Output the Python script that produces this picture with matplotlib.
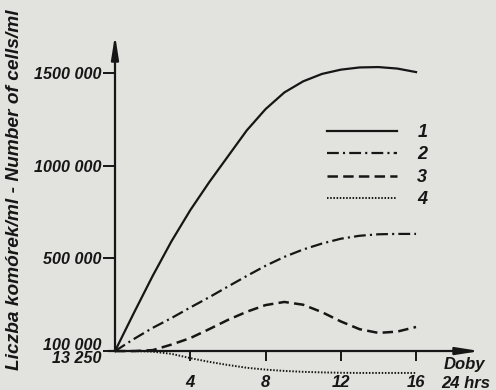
import matplotlib
matplotlib.use('Agg')
import matplotlib.pyplot as plt
from matplotlib.lines import Line2D

# ---- data ----
days = list(range(0, 17))
cells1 = [0, 205000, 405000, 592000, 760000, 910000, 1050000, 1190000, 1305000,
          1395000, 1455000, 1495000, 1518000, 1530000, 1532000, 1524000, 1505000]
cells2 = [0, 65000, 125000, 178000, 235000, 290000, 348000, 405000, 460000,
          508000, 548000, 580000, 606000, 622000, 630000, 632000, 632000]
cells3 = [0, 0, 5000, 35000, 70000, 118000, 168000, 212000, 248000,
          265000, 250000, 210000, 160000, 118000, 98000, 105000, 130000]
cells4 = [0, 0, -3000, -15000, -38000, -58000, -75000, -90000, -100000,
          -107000, -112000, -115000, -117000, -118000, -118000, -118000, -118000]

xticks = [4, 8, 12, 16]
xtick_labels = ['4', '8', '12', '16']
yticks = [0, 500000, 1000000, 1500000]
ytick_labels = ['100 000\n13 250', '500 000', '1000 000', '1500 000']
legend_labels = ['1', '2', '3', '4']

bg = '#e2e2df'
ink = '#161616'

plt.rcParams['font.family'] = ['Liberation Sans', 'DejaVu Sans']
plt.rcParams['font.weight'] = 'bold'
plt.rcParams['font.style'] = 'italic'
plt.rcParams['lines.scale_dashes'] = False

fig = plt.figure(figsize=(4.96, 3.9), dpi=100, facecolor=bg)
ax = fig.add_axes([115/496, 5/390, (480-115)/496, (385-35)/390])
ax.set_facecolor(bg)
ax.set_xlim(0, 19.4)
ax.set_ylim(-183000, 1705000)

styles = [
    dict(linestyle='-', lw=1.6),
    dict(linestyle=(0, (8.5, 3, 1.5, 3)), lw=1.6),
    dict(linestyle=(0, (7.5, 3.8)), lw=1.8),
    dict(linestyle=(0, (1.1, 1.2)), lw=1.4),
]
series = [cells1, cells2, cells3, cells4]
for c, st in zip(series, styles):
    ax.plot(days, c, color=ink, clip_on=False, solid_joinstyle='round', **st)

for s in ['top', 'right']:
    ax.spines[s].set_visible(False)
ax.spines['bottom'].set_position(('data', 0))
ax.spines['bottom'].set_bounds(-0.3, 18.3)
ax.spines['left'].set_bounds(0, 1620000)
for s in ['bottom', 'left']:
    ax.spines[s].set_linewidth(1.6)
    ax.spines[s].set_color(ink)

ax.annotate('', xy=(19.4, 0), xytext=(18.2, 0),
            arrowprops=dict(arrowstyle='-|>,head_length=1.4,head_width=0.22',
                            lw=1.6, color=ink, shrinkA=0, shrinkB=0))
ax.annotate('', xy=(0, 1705000), xytext=(0, 1610000),
            arrowprops=dict(arrowstyle='-|>,head_length=1.4,head_width=0.22',
                            lw=1.6, color=ink, shrinkA=0, shrinkB=0))

ax.set_xticks(xticks)
ax.set_xticklabels(xtick_labels, fontsize=12)
ax.set_yticks(yticks)
ax.set_yticklabels(ytick_labels, fontsize=11.6, linespacing=0.85)
ax.tick_params(axis='x', direction='out', length=7, width=1.4, color=ink, pad=10, labelcolor=ink)
ax.tick_params(axis='y', direction='out', length=9, width=1.4, color=ink, pad=1, labelcolor=ink)

fig.text(15/496, 1 - 190/390, 'Liczba komórek/ml - Number of cells/ml',
         rotation=90, ha='center', va='center', fontsize=13.8, color=ink)
fig.text(464/496, 1 - 364/390, 'Doby', ha='center', va='center', fontsize=12, color=ink)
fig.text(466/496, 1 - 383/390, '24 hrs', ha='center', va='center', fontsize=12, color=ink)

handles = [Line2D([0], [0], color=ink, **st) for st in styles]
leg = ax.legend(handles, legend_labels, loc='upper left',
                bbox_to_anchor=(327/496, 1 - 124/390), bbox_transform=fig.transFigure,
                frameon=False, fontsize=13, handlelength=3.9, handletextpad=1.1,
                labelspacing=0.3, borderpad=0, borderaxespad=0)
for t in leg.get_texts():
    t.set_color(ink)

fig.savefig('out.png', dpi=100, facecolor=bg)
